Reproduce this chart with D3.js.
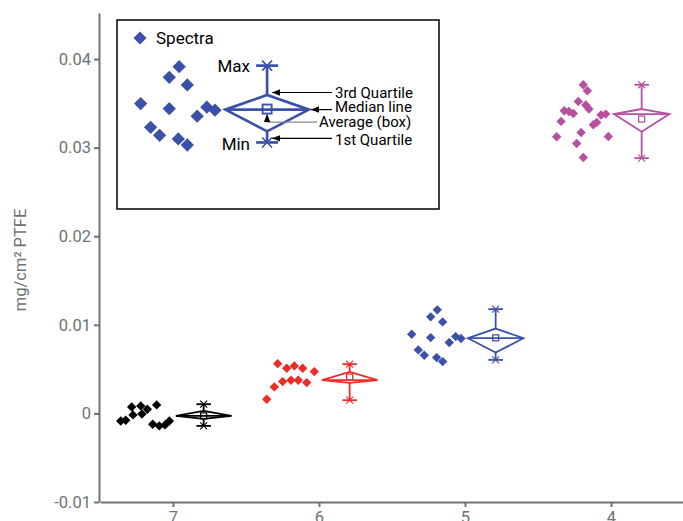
<!DOCTYPE html>
<html><head><meta charset="utf-8">
<script src="https://cdn.jsdelivr.net/npm/d3@7"></script>
<style>body{margin:0;background:#fff;} text{font-family:Roboto,"Noto Sans",sans-serif;}</style>
</head><body>
<script>
// ---- data ----
const categories = [7, 6, 5, 4];
const xTickLabels = ["7", "6", "5", "4"];
const yTicks = [-0.01, 0, 0.01, 0.02, 0.03, 0.04];
const yTickLabels = ["-0.01", "0", "0.01", "0.02", "0.03", "0.04"];
const colors = ["#000000", "#ee2b26", "#3b50a8", "#b7509f"];

// point x positions (in category units, jittered) and values
const x7 = [7.358, 7.324, 7.274, 7.283, 7.221, 7.176, 7.112, 7.213, 7.139, 7.094, 7.055, 7.025];
const y7 = [-0.00085, -0.00077, -0.00017, 0.00073, 0.00085, 0.00047, 0.00096, -0.00006, -0.00122, -0.00141, -0.0013, -0.00085];
const x6 = [6.283, 6.221, 6.169, 6.112, 6.032, 6.249, 6.192, 6.142, 6.084, 6.306, 6.358];
const y6 = [0.00562, 0.00510, 0.00536, 0.00510, 0.00472, 0.00359, 0.00375, 0.00375, 0.00348, 0.00299, 0.00160];
const x5 = [5.190, 5.235, 5.153, 5.365, 5.235, 5.064, 5.027, 5.108, 5.320, 5.279, 5.194, 5.153];
const y5 = [0.01169, 0.01090, 0.01033, 0.00894, 0.00856, 0.00867, 0.00845, 0.00800, 0.00717, 0.00657, 0.00630, 0.00585];
const x4 = [4.190, 4.162, 4.224, 4.173, 4.151, 4.320, 4.288, 4.258, 4.068, 4.036, 4.342, 4.098, 4.121, 4.205, 4.372, 4.018, 4.235, 4.190];
const y4 = [0.03710, 0.03642, 0.03521, 0.03481, 0.03436, 0.03416, 0.03408, 0.03386, 0.03368, 0.03379, 0.03296, 0.03284, 0.03258, 0.03171, 0.03123, 0.03126, 0.03047, 0.02889];

// box statistics per category
const boxMax    = [0.00104, 0.00556, 0.01177, 0.03710];
const boxQ3     = [0.00028, 0.00469, 0.00958, 0.03436];
const boxMedian = [-0.00028, 0.00375, 0.00849, 0.03379];
const boxMean   = [-0.00028, 0.00410, 0.00853, 0.03323];
const boxQ1     = [-0.00062, 0.00344, 0.00687, 0.03179];
const boxMin    = [-0.00141, 0.00149, 0.00604, 0.02882];

const legendLabel = "Spectra";
const annoLabels = ["3rd Quartile", "Median line", "Average (box)", "1st Quartile"];
const yTitle = "mg/cm\u00B2 PTFE";

// ---- drawing ----
const W = 683, H = 521;
const axisColor = "#6f7276", textColor = "#6f7276";
const svg = d3.select("body").append("svg").attr("width", W).attr("height", H);

const x = d3.scaleLinear().domain([7.5, 3.5]).range([100, 684]);
const y = d3.scaleLinear().domain([-0.01, 0.0452]).range([502, 13]);

const boxShift = 0.21, boxHalf = 0.19, capHalf = 0.05;

const pointsX = [x7, x6, x5, x4], pointsY = [y7, y6, y5, y4];

function drawGroup(g, xs, ys, i, color, sx, sy, o) {
  const sym = d3.symbol().type(d3.symbolSquare).size(o.ptSize);
  g.selectAll(null).data(xs.map((v, k) => [v, ys[k]])).join("path")
    .attr("d", sym)
    .attr("transform", d => `translate(${sx(d[0])},${sy(d[1])}) rotate(45)`)
    .attr("fill", color);
  const c = categories[i] - boxShift;
  const cx = sx(c), hw = sx(c - boxHalf) - cx, cw = sx(c - capHalf) - cx;
  const yq3 = sy(boxQ3[i]), ymed = sy(boxMedian[i]), yq1 = sy(boxQ1[i]);
  const ymax = sy(boxMax[i]), ymin = sy(boxMin[i]), ymean = sy(boxMean[i]);
  const bg = g.append("g").attr("fill", "none").attr("stroke", color).attr("stroke-width", o.sw);
  bg.append("path").attr("d", `M${cx},${yq3}L${cx + hw},${ymed}L${cx},${yq1}L${cx - hw},${ymed}Z`).attr("stroke-linejoin", "miter");
  bg.append("line").attr("x1", cx - hw).attr("x2", cx + hw).attr("y1", ymed).attr("y2", ymed);
  bg.append("line").attr("x1", cx).attr("x2", cx).attr("y1", ymax).attr("y2", yq3);
  bg.append("line").attr("x1", cx).attr("x2", cx).attr("y1", yq1).attr("y2", ymin);
  [ymax, ymin].forEach(yy => {
    bg.append("line").attr("x1", cx - cw).attr("x2", cx + cw).attr("y1", yy).attr("y2", yy);
    const s = o.star;
    bg.append("path").attr("d", `M${cx - s},${yy - s}L${cx + s},${yy + s}M${cx - s},${yy + s}L${cx + s},${yy - s}`).attr("stroke-width", o.sw * 0.6);
  });
  bg.append("rect").attr("x", cx - o.sq / 2).attr("y", ymean - o.sq / 2).attr("width", o.sq).attr("height", o.sq).attr("stroke-width", o.sw * 0.7);
}

// axes
const yAxis = d3.axisLeft(y).tickValues(yTicks).tickSize(5).tickSizeOuter(0).tickPadding(3)
  .tickFormat((d, k) => yTickLabels[k]);
const xAxis = d3.axisBottom(x).tickValues(categories).tickSize(5).tickSizeOuter(0).tickPadding(4)
  .tickFormat((d, k) => xTickLabels[k]);

const gy = svg.append("g").attr("transform", `translate(${x.range()[0] - 1},0)`).call(yAxis);
const gx = svg.append("g").attr("transform", `translate(0,${y.range()[0]})`).call(xAxis);
[gy, gx].forEach(gg => {
  gg.select(".domain").attr("stroke", axisColor).attr("stroke-width", 2);
  gg.selectAll(".tick line").attr("stroke", axisColor).attr("stroke-width", 2);
  gg.selectAll(".tick text").attr("fill", textColor).attr("font-size", 16.5).attr("font-family", "Roboto");
});

svg.append("text").attr("transform", `translate(26,260) rotate(-90)`)
  .attr("text-anchor", "middle").attr("fill", textColor).attr("font-size", 16.5)
  .text(yTitle);

// groups
categories.forEach((c, i) => {
  drawGroup(svg.append("g"), pointsX[i], pointsY[i], i, colors[i], x, y, { ptSize: 44, sw: 1.8, star: 3.5, sq: 6 });
});

// legend box
const lg = svg.append("g");
lg.append("rect").attr("x", 117).attr("y", 20).attr("width", 322).attr("height", 189)
  .attr("fill", "#fff").attr("stroke", "#000").attr("stroke-width", 1.5);
lg.append("path").attr("d", d3.symbol().type(d3.symbolSquare).size(85)())
  .attr("transform", "translate(140,38) rotate(45)").attr("fill", colors[2]);
lg.append("text").attr("x", 156).attr("y", 44).attr("font-size", 17).attr("fill", "#000").text(legendLabel);

// legend illustration = category 5 data on an enlarged scale
const lx = d3.scaleLinear().domain([5.365, 5.027]).range([140.7, 215]);
const ly = d3.scaleLinear().domain([0.01169, 0.00585]).range([66.7, 145]);
drawGroup(lg.append("g"), x5, y5, 2, colors[2], lx, ly, { ptSize: 88, sw: 2.7, star: 5, sq: 9 });

// annotation
const cxL = lx(categories[2] - boxShift), hwL = lx(categories[2] - boxShift - boxHalf) - cxL;
const defs = svg.append("defs");
defs.append("marker").attr("id", "ah").attr("viewBox", "0 0 10 10").attr("refX", 10).attr("refY", 5)
  .attr("markerWidth", 7).attr("markerHeight", 7).attr("orient", "auto")
  .append("path").attr("d", "M0,1L10,5L0,9Z").attr("fill", "#000");

const textX = 335;
const yq3L = ly(boxQ3[2]) - 2.5, ymedL = ly(boxMedian[2]), yq1L = ly(boxQ1[2]) + 7;
const ymeanL = ly(boxMean[2]);
lg.append("line").attr("x1", 332).attr("y1", yq3L).attr("x2", cxL + 5).attr("y2", yq3L)
  .attr("stroke", "#000").attr("stroke-width", 1.2).attr("marker-end", "url(#ah)");
lg.append("line").attr("x1", 332).attr("y1", ymedL).attr("x2", cxL + hwL + 2).attr("y2", ymedL)
  .attr("stroke", "#000").attr("stroke-width", 1.2).attr("marker-end", "url(#ah)");
lg.append("path").attr("d", `M317,${ymeanL + 13}L${cxL},${ymeanL + 13}L${cxL},${ymeanL + 5}`)
  .attr("fill", "none").attr("stroke", "#8a8a8a").attr("stroke-width", 1.2).attr("marker-end", "url(#ah)");
lg.append("line").attr("x1", 332).attr("y1", yq1L).attr("x2", cxL + 5).attr("y2", yq1L)
  .attr("stroke", "#000").attr("stroke-width", 1.2).attr("marker-end", "url(#ah)");

const annoY = [yq3L, ymedL - 3, ymeanL + 13, yq1L + 1.5];
const annoX = [textX, textX, 319, textX];
annoLabels.forEach((t, k) => {
  lg.append("text").attr("x", annoX[k]).attr("y", annoY[k]).attr("dy", "0.35em")
    .attr("font-size", 15).attr("fill", "#000").text(t);
});
lg.append("text").attr("x", 250).attr("y", ly(boxMax[2])).attr("dy", "0.35em").attr("text-anchor", "end")
  .attr("font-size", 17).attr("fill", "#000").text("Max");
lg.append("text").attr("x", 250).attr("y", ly(boxMin[2]) + 2).attr("dy", "0.35em").attr("text-anchor", "end")
  .attr("font-size", 17).attr("fill", "#000").text("Min");
</script>
</body></html>
